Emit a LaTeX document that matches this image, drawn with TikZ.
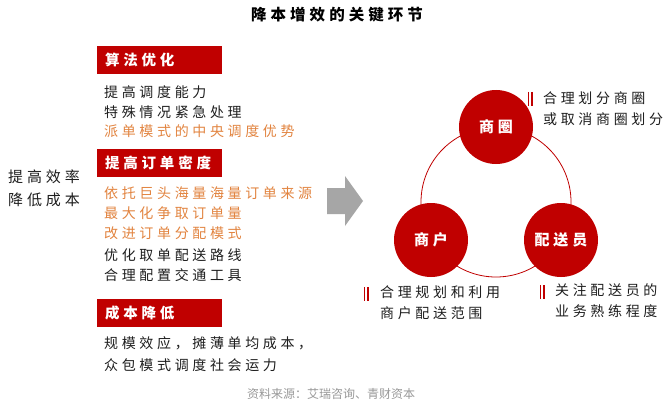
\documentclass[tikz,border=0pt]{standalone}
\usepackage{fontspec}
\setmainfont{Noto Sans CJK SC}[LetterSpace=26]
\newfontfamily\srcfont{Noto Sans CJK SC}
\usetikzlibrary{positioning}
\definecolor{barRed}{RGB}{192,0,0}
\definecolor{tipOrange}{RGB}{226,132,64}
\definecolor{arrowGray}{RGB}{166,166,166}
\definecolor{bodyInk}{RGB}{30,30,30}
\tikzset{
  bartitle/.style={fill=barRed, text=white, anchor=north west, inner xsep=8pt, inner ysep=0pt,
    text width=109pt, minimum height=28pt, align=left, font=\fontsize{14.5}{16}\selectfont\bfseries},
  bodyline/.style={anchor=west, inner sep=0pt, text=bodyInk, font=\fontsize{14}{16}\selectfont},
  hiline/.style={bodyline, text=tipOrange},
  hub/.style={circle, fill=barRed, minimum size=74pt, inner sep=0pt, text=white,
    font=\fontsize{15}{17}\selectfont\bfseries},
  note/.style={anchor=west, inner sep=0pt, align=left, text=bodyInk, font=\fontsize{14}{21}\selectfont},
  tick/.style={barRed, line width=1.2pt}
}
\begin{document}
\begin{tikzpicture}[x=1pt, y=-1pt]
    \useasboundingbox[fill=white] (0,0) rectangle (671,409);

    % title
    \node[font=\fontsize{15.5}{18}\selectfont\bfseries, text=black] (title) at (337,15) {降本增效的关键环节};

    % left label
    \node[note, font=\fontsize{15}{23}\selectfont] (goal) at (8,188) {提高效率\\降低成本};

    % algorithm
    \node[bartitle] (algo) at (97,46) {算法优化};
    \node[bodyline] (algo1) at (104,92) {提高调度能力};
    \node[bodyline] (algo2) at (104,112) {特殊情况紧急处理};
    \node[hiline] (algo3) at (104,131) {派单模式的中央调度优势};

    % order density
    \node[bartitle] (dens) at (97,149) {提高订单密度};
    \node[hiline] (dens1) at (104,193) {依托巨头海量海量订单来源};
    \node[hiline] (dens2) at (104,213) {最大化争取订单量};
    \node[hiline] (dens3) at (104,233) {改进订单分配模式};
    \node[bodyline] (dens4) at (104,255) {优化取单配送路线};
    \node[bodyline] (dens5) at (104,275) {合理配置交通工具};

    % cost
    \node[bartitle] (cost) at (97,299) {成本降低};
    \node[bodyline] (cost1) at (104,343) {规模效应，摊薄单均成本，};
    \node[bodyline] (cost2) at (104,365) {众包模式调度社会运力};

    % gray arrow
    \fill[arrowGray] (327,188) -- (345,188) -- (345,176) -- (363,201) -- (345,226) -- (345,214) -- (327,214) -- cycle;

    % ring of three
    \coordinate (ring) at (496,202);
    \draw[barRed, line width=0.8pt] (ring) circle (75);
    \node[hub] (area) at (496,127) {商圈};
    \node[hub] (shop) at (431,240) {商户};
    \node[hub] (rider) at (561,240) {配送员};

    % notes
    \node[note] (areanote) at (543,109) {合理划分商圈\\或取消商圈划分};
    \draw[tick, line width=0.8pt] (528,92) -- (528,106);
    \draw[tick] (532,92) -- (532,106);

    \node[note] (shopnote) at (380,303) {合理规划和利用\\商户配送范围};
    \draw[tick, line width=0.8pt] (364,287) -- (364,301);
    \draw[tick] (368,287) -- (368,301);

    \node[note] (ridernote) at (555,301) {关注配送员的\\业务熟练程度};
    \draw[tick, line width=0.8pt] (540,285) -- (540,299);
    \draw[tick] (544,285) -- (544,299);

    % source
    \node[anchor=west, inner sep=0pt, text=black!40, font=\srcfont\fontsize{12}{14}\selectfont] (src) at (247,394) {资料来源：艾瑞咨询、青财资本};
\end{tikzpicture}
\end{document}
